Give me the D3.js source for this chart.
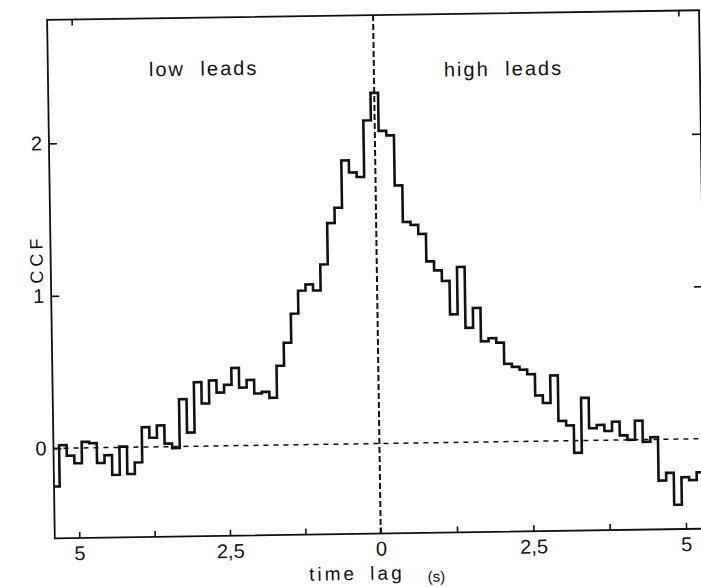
<!DOCTYPE html>
<html><head><meta charset="utf-8">
<script src="https://cdn.jsdelivr.net/npm/d3@7"></script>
<style>body{margin:0;background:#fff;} svg{display:block;}</style>
</head><body>
<svg id="chart" width="701" height="587"></svg>
<script>
// ---- data ----
const firstBinCenter = -5.375;   // s
const binWidth = 0.125;          // s
const ccfValues = [
  -0.25, 0.02, -0.05, -0.10, 0.04, 0.03, -0.10, -0.05, -0.18, 0.005, -0.175, -0.10,
  0.13, 0.06, 0.14, 0.02, -0.01, 0.31, 0.09, 0.42, 0.28, 0.43, 0.35, 0.40,
  0.51, 0.38, 0.43, 0.34, 0.35, 0.31, 0.52, 0.67, 0.86, 1.01, 1.05, 1.01,
  1.18, 1.45, 1.55, 1.86, 1.78, 1.75, 2.12, 2.30, 2.05, 2.02, 1.69, 1.45,
  1.43, 1.37, 1.19, 1.13, 1.06, 0.84, 1.15, 0.75, 0.88, 0.66, 0.68, 0.65,
  0.51, 0.49, 0.47, 0.44, 0.30, 0.25, 0.43, 0.13, 0.10, -0.08, 0.28, 0.08,
  0.10, 0.06, 0.12, 0.03, 0.00, 0.125, -0.015, 0.015, -0.27, -0.22, -0.43, -0.25,
  -0.27, -0.22
];
const xTickValues = [-5, -3.75, -2.5, -1.25, 0, 1.25, 2.5, 3.75, 5];
const xTickLabels = ["5", "", "2,5", "", "0", "", "2,5", "", "5"];
const yTickValues = [0, 1, 2];
const yTickLabels = ["0", "1", "2"];
const rightTickValues = [1, 2];
const topTickValues = [-5, 5];
const regionLabels = ["low leads", "high leads"];
const xTitle = "time lag", xUnit = "(s)", yTitle = "CCF";

// ---- layout ----
const L = 51, R = 703, T = 15, B = 533.5;
const x = d3.scaleLinear().domain([-5, 0, 5]).range([75.5, 377, 682.3]);
const y = d3.scaleLinear().domain([0, 2]).range([443.5, 138.5]);

const svg = d3.select("#chart");
svg.append("rect").attr("width", 701).attr("height", 587).attr("fill", "#fff");
const g = svg.append("g").attr("transform", "rotate(-0.85 380 280)");

svg.append("defs").append("clipPath").attr("id", "clip")
  .append("rect").attr("x", L).attr("y", T).attr("width", R - L).attr("height", B - T);

const ink = "#111";

// frame
g.append("rect").attr("x", L).attr("y", T).attr("width", R - L).attr("height", B - T)
  .attr("fill", "none").attr("stroke", ink).attr("stroke-width", 1.8);

// axes
const font = "'Liberation Sans', Arial, Helvetica, sans-serif";
const xAxis = d3.axisBottom(x).tickValues(xTickValues).tickSize(-6).tickPadding(8)
  .tickFormat((d, i) => xTickLabels[i]);
const gx = g.append("g").attr("transform", `translate(0,${B})`).call(xAxis);
const yAxis = d3.axisLeft(y).tickValues(yTickValues).tickSize(-8).tickPadding(7)
  .tickFormat((d, i) => yTickLabels[i]);
const gy = g.append("g").attr("transform", `translate(${L},0)`).call(yAxis);
const yAxisR = d3.axisRight(y).tickValues(rightTickValues).tickSize(-9).tickFormat("");
const gyr = g.append("g").attr("transform", `translate(${R},0)`).call(yAxisR);
const xAxisT = d3.axisTop(x).tickValues(topTickValues).tickSize(-6).tickFormat("");
const gxt = g.append("g").attr("transform", `translate(0,${T})`).call(xAxisT);

[gx, gy, gyr, gxt].forEach(a => {
  a.select(".domain").remove();
  a.selectAll(".tick line").attr("stroke", ink).attr("stroke-width", 1.6);
  a.selectAll(".tick text").attr("fill", ink).style("font-family", font).style("font-size", "20px");
});

// dashed reference lines
g.append("line").attr("x1", L).attr("x2", R).attr("y1", y(0)).attr("y2", y(0))
  .attr("stroke", ink).attr("stroke-width", 1.5).attr("stroke-dasharray", "5,5");
g.append("line").attr("x1", x(0)).attr("x2", x(0)).attr("y1", T).attr("y2", B)
  .attr("stroke", ink).attr("stroke-width", 2).attr("stroke-dasharray", "6,3");

// step histogram
const pts = ccfValues.map((v, i) => [firstBinCenter + i * binWidth - binWidth / 2, v]);
pts.push([firstBinCenter + (ccfValues.length - 1) * binWidth + binWidth / 2, ccfValues[ccfValues.length - 1]]);
const line = d3.line().x(d => x(d[0])).y(d => y(d[1])).curve(d3.curveStepAfter);
g.append("path").attr("clip-path", "url(#clip)").datum(pts).attr("d", line)
  .attr("fill", "none").attr("stroke", ink).attr("stroke-width", 2.6)
  .attr("stroke-linejoin", "miter");

// texts
const txt = (s, tx, ty, size, opts = {}) => {
  const t = g.append("text").attr("x", tx).attr("y", ty).text(s)
    .attr("fill", ink).style("font-family", font).style("font-size", size + "px")
    .attr("text-anchor", opts.anchor || "start");
  if (opts.ls) t.style("letter-spacing", opts.ls + "px");
  if (opts.ws) t.style("word-spacing", opts.ws + "px");
  if (opts.rot) t.attr("transform", `rotate(${opts.rot} ${tx} ${ty})`);
  return t;
};
txt(regionLabels[0], x(-3.73), y(2.43), 20, { ls: 2, ws: 8 });
txt(regionLabels[1], x(1.146), y(2.40), 20, { ls: 2, ws: 8 });
txt(xTitle, 352.5, 579.7, 19, { anchor: "middle", ls: 3, ws: 5 });
txt(xUnit, 432, 582.5, 15, { anchor: "middle" });
txt(yTitle, 43, 254, 18, { anchor: "middle", ls: 4, rot: -90 });
</script>
</body></html>
